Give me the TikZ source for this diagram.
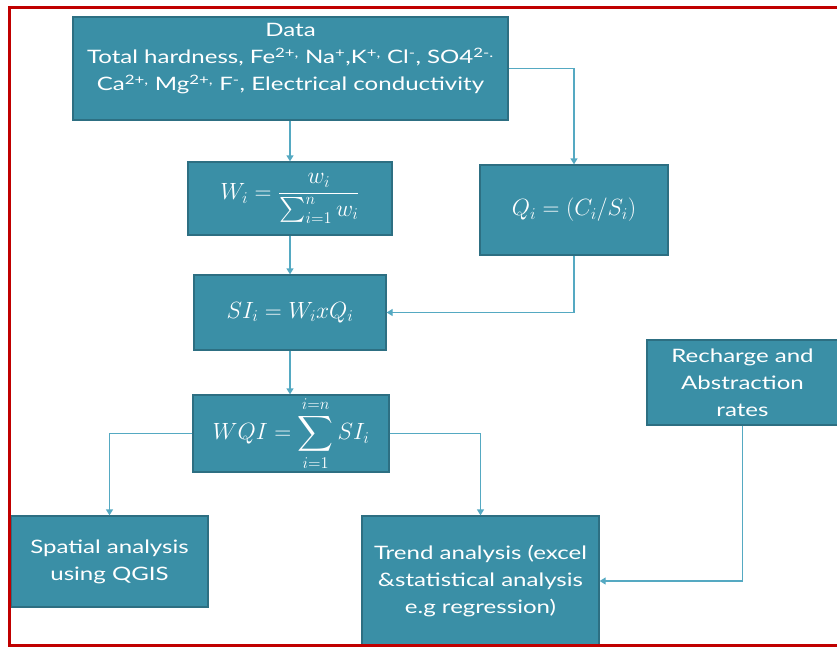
\documentclass[tikz,border=0pt]{standalone}
\usepackage{fix-cm}
\usepackage{exscale}
\usepackage{fontspec}
\setmainfont{Lato}[FakeStretch=1.3]
\usetikzlibrary{arrows.meta}
\definecolor{boxfill}{HTML}{3A8FA6}
\definecolor{boxline}{HTML}{2D6F82}
\definecolor{connc}{HTML}{55A9C2}
\definecolor{framec}{HTML}{C00000}
\begin{document}
\begin{tikzpicture}[x=1pt,y=-1pt,
  box/.style={draw=boxline,fill=boxfill,line width=1.3pt,text=white,align=center,inner sep=0pt,font=\fontsize{18.5}{27}\selectfont},
  txt/.style={text=white,align=center,inner sep=0pt,font=\fontsize{18.5}{27}\selectfont},
  mth/.style={text=white,inner sep=0pt,font=\fontsize{23.5}{26}\selectfont},
  conn/.style={draw=connc,line width=1.3pt,-{Triangle[width=7pt,length=6pt]}}]
\useasboundingbox (0,0) rectangle (837,648);

\node[box,minimum width=435pt,minimum height=103pt] (data) at (290.5,68.5) {};
\node[txt] (datatext) at (290.5,59) {Data\\Total hardness, Fe\textsuperscript{2+,} Na\textsuperscript{+},K\textsuperscript{+,} Cl\textsuperscript{-}, SO4\textsuperscript{2-.}\\Ca\textsuperscript{2+,} Mg\textsuperscript{2+,} F\textsuperscript{-}, Electrical conductivity};

\node[box,minimum width=204pt,minimum height=73pt] (w) at (290,198.5) {};
\node[mth] (wtext) at (w.center) {$\displaystyle W_i=\frac{w_i}{\sum_{i=1}^{n} w_i}$};

\node[box,minimum width=188pt,minimum height=90pt] (q) at (574,210) {};
\node[mth] (qtext) at (q.center) {$Q_i=(C_i/S_i)$};

\node[box,minimum width=192pt,minimum height=75pt] (si) at (290,312.5) {};
\node[mth] (sitext) at (si.center) {$SI_i=W_i x Q_i$};

\node[box,minimum width=196pt,minimum height=77pt] (wqi) at (291,433.5) {};
\node[mth] (wqitext) at (wqi.center) {$\displaystyle WQI=\sum_{i=1}^{i=n} SI_i$};

\node[box,minimum width=191pt,minimum height=85pt] (rech) at (742.5,382.5) {Recharge and\\Abstraction\\rates};

\node[box,minimum width=197pt,minimum height=91pt] (sp) at (109.5,561.5) {Spatial analysis\\using QGIS};

\node[box,minimum width=237pt,minimum height=130pt] (tr) at (480.5,581) {Trend analysis (excel\\\&statistical analysis\\e.g regression)};

\draw[conn] (w.north |- data.south) -- (w.north);
\draw[conn] (data.east) -| (q.north);
\draw[conn] (w.south) -- (si.north);
\draw[conn] (q.south) |- (si.east);
\draw[conn] (si.south) -- (si.south |- wqi.north);
\draw[conn] (wqi.west) -| (sp.north);
\draw[conn] (wqi.east) -| (tr.north);
\draw[conn] (rech.south) |- (tr.east);

\draw[framec,line width=3pt] (840,7.5) -- (9.5,7.5) -- (9.5,645.5) -- (840,645.5);
\end{tikzpicture}
\end{document}
